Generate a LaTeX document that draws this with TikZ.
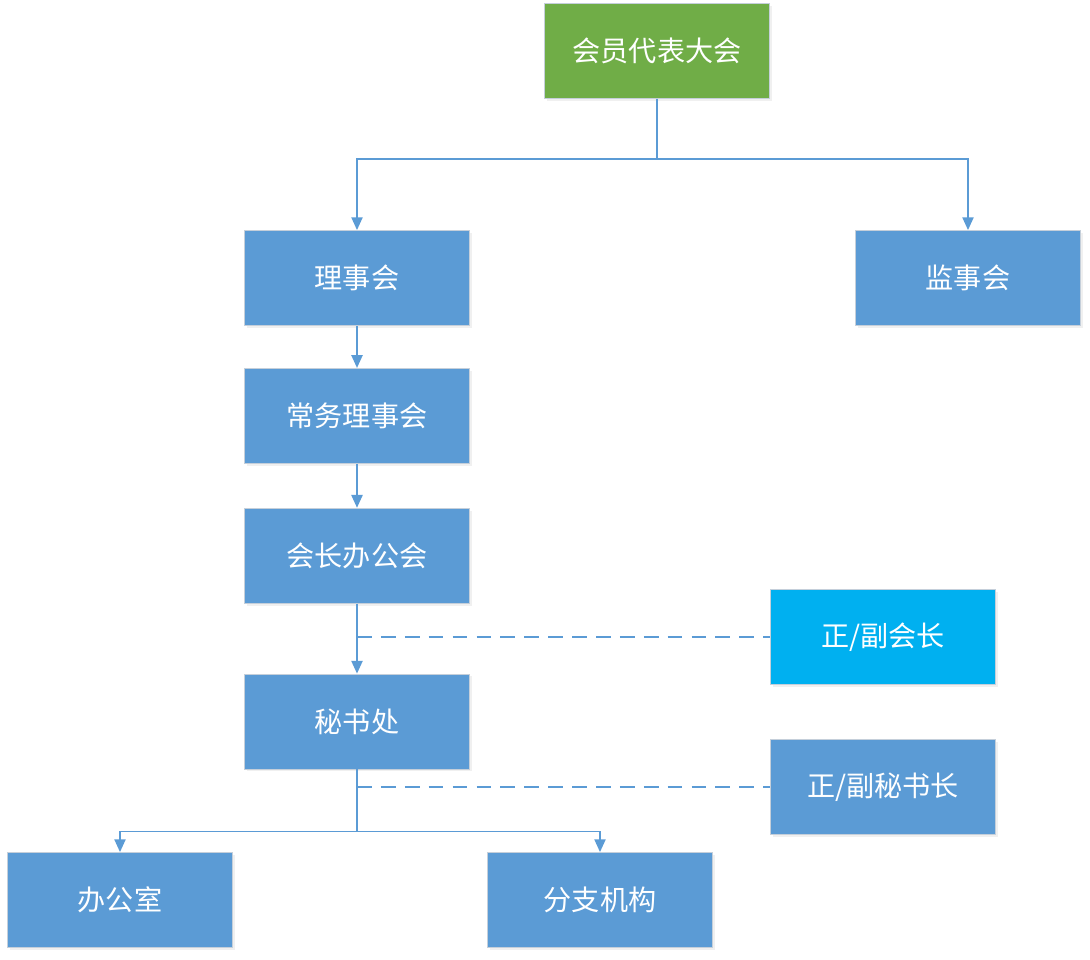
\documentclass[tikz,border=0pt]{standalone}
\usepackage{fontspec}
\usepackage{xcolor}
\usepackage{tikz}
\usetikzlibrary{arrows.meta,positioning,calc,shadows}
\newfontfamily\cjk{Noto Sans CJK SC}
\definecolor{boxblue}{HTML}{5B9BD5}
\definecolor{boxgreen}{HTML}{70AD47}
\definecolor{boxcyan}{HTML}{00B0F0}
\definecolor{edgegray}{HTML}{C5CFDA}

\begin{document}
\begin{tikzpicture}[node distance=1.05cm,
  every node/.style={font=\cjk\fontsize{20}{24}\selectfont, text=white},
  orgbox/.style={rectangle, draw=edgegray, line width=0.6pt, fill=boxblue,
    minimum width=5.625cm, minimum height=2.375cm,
    drop shadow={opacity=0.12, shadow xshift=0.06cm, shadow yshift=-0.06cm}},
  link/.style={draw=boxblue, line width=1.2pt, -{Triangle[length=3.2mm, width=2.8mm]}},
  plainlink/.style={draw=boxblue, line width=1.2pt},
  dashlink/.style={draw=boxblue, line width=1.1pt, dash pattern=on 10.5pt off 6.5pt}]
  \useasboundingbox (0,0) rectangle (27.25,-24);
  \node[orgbox, fill=boxgreen] (congress) at (16.425,-1.275) {会员代表大会};
  \node[orgbox] (council) at (8.925,-6.95) {理事会};
  \node[orgbox] (supervisors) at (24.2,-6.95) {监事会};
  \node[orgbox, below=of council] (standing) {常务理事会};
  \node[orgbox, below=1.1cm of standing] (presidium) {会长办公会};
  \node[orgbox, below=1.75cm of presidium] (secretariat) {秘书处};
  \node[orgbox, fill=boxcyan] (presidents) at (22.075,-15.925) {正/副会长};
  \node[orgbox] (secretaries) at (22.075,-19.675) {正/副秘书长};
  \node[orgbox] (office) at (3.0,-22.5) {办公室};
  \node[orgbox] (branches) at (15.0,-22.5) {分支机构};
  % top split
  \coordinate (topsplit) at ($(congress.south)+(0,-1.5)$);
  \draw[plainlink] (congress.south) -- (topsplit);
  \draw[link] (topsplit) -| (council.north);
  \draw[link] (topsplit) -| (supervisors.north);
  % main chain
  \draw[link] (council) -- (standing);
  \draw[link] (standing) -- (presidium);
  \draw[link] (presidium) -- (secretariat);
  % dashed side links
  \draw[dashlink] (presidium.south |- presidents.west) -- (presidents.west);
  \draw[dashlink] (secretariat.south |- secretaries.west) -- (secretaries.west);
  % bottom split
  \coordinate (lowsplit) at ($(secretariat.south)+(0,-1.55)$);
  \draw[plainlink] (secretariat.south) -- (lowsplit);
  \draw[link] (lowsplit) -| (office.north);
  \draw[link] (lowsplit) -| (branches.north);
\end{tikzpicture}
\end{document}
